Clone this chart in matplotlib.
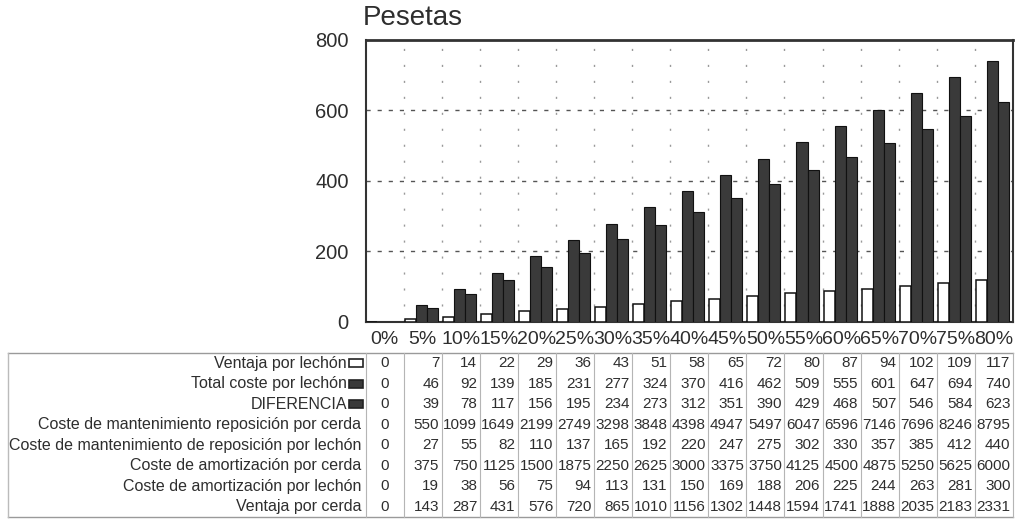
import matplotlib.pyplot as plt
from matplotlib.patches import Rectangle
import numpy as np

plt.rcParams['font.family'] = ['Liberation Sans', 'DejaVu Sans']

# Datos (pesetas)
porcentajes = ['0%', '5%', '10%', '15%', '20%', '25%', '30%', '35%', '40%',
               '45%', '50%', '55%', '60%', '65%', '70%', '75%', '80%']
ventaja_lechon = [0, 7, 14, 22, 29, 36, 43, 51, 58, 65, 72, 80, 87, 94, 102, 109, 117]
total_coste_lechon = [0, 46, 92, 139, 185, 231, 277, 324, 370, 416, 462, 509, 555, 601, 647, 694, 740]
diferencia = [0, 39, 78, 117, 156, 195, 234, 273, 312, 351, 390, 429, 468, 507, 546, 584, 623]
mant_repos_cerda = [0, 550, 1099, 1649, 2199, 2749, 3298, 3848, 4398, 4947, 5497, 6047, 6596, 7146, 7696, 8246, 8795]
mant_repos_lechon = [0, 27, 55, 82, 110, 137, 165, 192, 220, 247, 275, 302, 330, 357, 385, 412, 440]
amort_cerda = [0, 375, 750, 1125, 1500, 1875, 2250, 2625, 3000, 3375, 3750, 4125, 4500, 4875, 5250, 5625, 6000]
amort_lechon = [0, 19, 38, 56, 75, 94, 113, 131, 150, 169, 188, 206, 225, 244, 263, 281, 300]
ventaja_cerda = [0, 143, 287, 431, 576, 720, 865, 1010, 1156, 1302, 1448, 1594, 1741, 1888, 2035, 2183, 2331]

filas = [
    ('Ventaja por lechón', ventaja_lechon, 'white'),
    ('Total coste por lechón', total_coste_lechon, 'dark'),
    ('DIFERENCIA', diferencia, 'dark'),
    ('Coste de mantenimiento reposición por cerda', mant_repos_cerda, None),
    ('Coste de mantenimiento de reposición por lechón', mant_repos_lechon, None),
    ('Coste de amortización por cerda', amort_cerda, None),
    ('Coste de amortización por lechón', amort_lechon, None),
    ('Ventaja por cerda', ventaja_cerda, None),
]

W, H = 1022, 521
txt = '#2e2e2e'
oscuro = '#3a3a3a'

fig = plt.figure(figsize=(W / 100, H / 100), dpi=100)

# geometría en píxeles
x0, x1 = 365.5, 1013.0
y_top, y_base = 39.5, 321.7
colw = (x1 - x0) / len(porcentajes)

ax = fig.add_axes([x0 / W, 1 - y_base / H, (x1 - x0) / W, (y_base - y_top) / H])
x = np.arange(len(porcentajes))
bw = 0.29
ax.bar(x - 0.33, ventaja_lechon, bw, color='white', edgecolor='#111', linewidth=1.1, zorder=3)
ax.bar(x - 0.04, total_coste_lechon, bw, color=oscuro, edgecolor='#111', linewidth=0.8, zorder=3)
ax.bar(x + 0.25, diferencia, bw, color=oscuro, edgecolor='#111', linewidth=0.8, zorder=3)

ax.set_xlim(-0.5, len(porcentajes) - 0.5)
ax.set_ylim(0, 800)
ax.set_yticks([0, 200, 400, 600, 800])
ax.tick_params(axis='y', length=0, pad=12, labelsize=14.5, labelcolor=txt)
ax.set_xticks([])
for v in [200, 400, 600]:
    ax.axhline(v, color='#555', lw=1, ls=(0, (3, 5)), zorder=1)
for k in range(1, len(porcentajes)):
    ax.axvline(k - 0.5, color='#999', lw=1, ls=(0, (1.5, 10)), zorder=1)
for s in ax.spines.values():
    s.set_color('#333')
    s.set_linewidth(1.5)
ax.spines['top'].set_linewidth(2)

fig.text(363 / W, 1 - 18 / H, 'Pesetas', fontsize=20, color=txt, ha='left', va='center')

# Tabla de datos debajo del gráfico
tx = fig.add_axes([x0 / W, 1 - 517 / H, (x1 - x0) / W, (517 - y_base) / H])
tx.set_xlim(-0.5, len(porcentajes) - 0.5)
tx.set_ylim(517, y_base)
tx.axis('off')


def px2x(px):
    return -0.5 + (px - x0) / colw


for i, p in enumerate(porcentajes):
    tx.text(i, 340, p, ha='center', va='center', fontsize=14, color=txt)

t_top, t_bot = 353, 517
rowh = (t_bot - t_top) / len(filas)
lc = '#9a9a9a'
tx.plot([px2x(8), px2x(x1)], [t_top, t_top], color=lc, lw=1, clip_on=False)
tx.plot([px2x(8), px2x(x1)], [t_bot, t_bot], color=lc, lw=1, clip_on=False)
tx.plot([px2x(8), px2x(8)], [t_top, t_bot], color='#bbb', lw=1, clip_on=False)
for k in range(len(porcentajes) + 1):
    tx.plot([k - 0.5, k - 0.5], [t_top, t_bot], color='#b5b5b5', lw=0.8, clip_on=False)

for r, (nombre, valores, marca) in enumerate(filas):
    yc = t_top + rowh * (r + 0.5)
    if marca is None:
        tx.text(px2x(361), yc, nombre, ha='right', va='center', fontsize=11.5, color=txt, clip_on=False)
    else:
        tx.text(px2x(347), yc, nombre, ha='right', va='center', fontsize=11.5, color=txt, clip_on=False)
        fc = 'white' if marca == 'white' else oscuro
        tx.add_patch(Rectangle((px2x(349), yc - 4), 14 / colw, 8, facecolor=fc,
                               edgecolor='#222', lw=1.2, clip_on=False))
    for i, v in enumerate(valores):
        if i == 0:
            tx.text(i, yc, str(v), ha='center', va='center', fontsize=11, color=txt)
        else:
            tx.text(i + 0.5 - 2.5 / colw, yc, str(v), ha='right', va='center', fontsize=11, color=txt)

fig.savefig('out.png', dpi=100)
